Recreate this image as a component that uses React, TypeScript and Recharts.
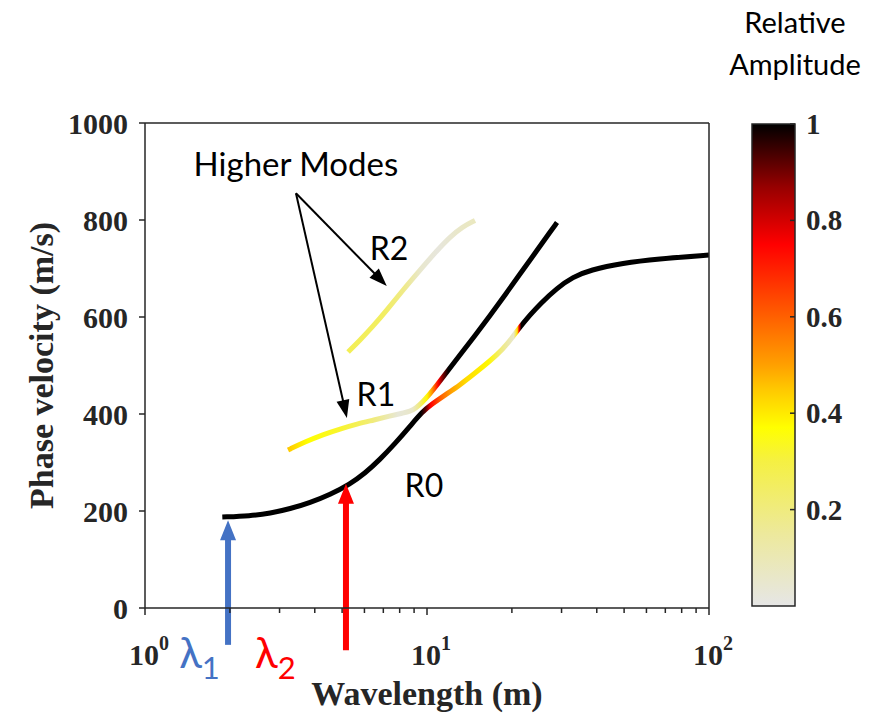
import React from 'react';
import { LineChart, Line, XAxis, YAxis, ReferenceLine, ReferenceDot, BarChart, Bar } from 'recharts';

// wavelength (m) / phase velocity (m/s) of each mode
const R0_WAVELENGTH = [1.88, 2.36, 2.78, 3.27, 3.85, 4.53, 5.33, 6.03, 6.81, 7.7, 8.7, 9.6, 10.42, 11.58, 13.09, 14.8, 16.73, 18.6, 20.02, 21.37, 23.19, 25.16, 28.91, 32.94, 37.84, 49.55, 65.4, 100];
const R0_VELOCITY = [187.6, 189.9, 195.3, 204.5, 217.3, 233.8, 255.5, 277.9, 306.2, 338.8, 374.4, 404.1, 420.6, 439.2, 459.8, 484.5, 509.3, 534, 556.7, 579.4, 604.1, 626.8, 659.8, 682.5, 696.9, 711.3, 719.6, 727.8];

const R1_WAVELENGTH = [3.215, 3.69, 4.28, 4.92, 5.65, 6.49, 7.39, 8.22, 8.7, 9.14, 9.6, 10.16, 10.85, 11.77, 13.09, 14.8, 16.73, 18.91, 21.37, 24.55, 27.31, 28.91];
const R1_VELOCITY = [325.8, 342.3, 357.7, 369.1, 379.4, 387.6, 395.9, 402.1, 405.2, 412.4, 423.7, 439.2, 459.8, 486.6, 521.6, 561.9, 603.1, 645.4, 688.7, 737.1, 775.3, 794.8];

const R2_WAVELENGTH = [5.25, 5.79, 6.38, 7.21, 8.22, 9.45, 10.85, 12.06, 13.31, 14.8];
const R2_VELOCITY = [527.8, 552.6, 578.4, 614.4, 655.7, 696.9, 737.1, 765, 785.6, 799];

// relative amplitude along each mode
const R0_AMP_WAVELENGTH = [1.88, 9.5, 9.9, 10.3, 11.2, 12.2, 13.8, 16.5, 18.3, 20.3, 20.9, 21.2, 21.6, 100];
const R0_AMP = [1, 1, 0.92, 0.75, 0.6, 0.5, 0.42, 0.38, 0.2, 0.05, 0.4, 0.75, 1, 1];

const R1_AMP_WAVELENGTH = [3.215, 3.78, 4.95, 6.5, 7.9, 8.9, 9.4, 10.0, 10.5, 10.95, 11.4, 11.9, 28.91];
const R1_AMP = [0.45, 0.37, 0.32, 0.2, 0.03, 0.06, 0.2, 0.38, 0.55, 0.75, 0.9, 1, 1];

const R2_AMP_WAVELENGTH = [5.25, 7.0, 8.3, 9.5, 10.9, 13, 14.8];
const R2_AMP = [0.27, 0.25, 0.18, 0.05, 0.02, 0.06, 0.08];

// colormap
const CMAP_STOPS = [0, 0.15, 0.3, 0.37, 0.45, 0.5, 0.6, 0.75, 0.87, 1];
const CMAP_COLORS = ['#e6e6e6', '#ede99c', '#f5f043', '#ffff00', '#ffc800', '#ffa000', '#ff6000', '#ff0000', '#960000', '#000000'];

const X_TICKS = [1, 2, 3, 4, 5, 6, 7, 8, 9, 10, 20, 30, 40, 50, 60, 70, 80, 90, 100];
const Y_TICKS = [0, 200, 400, 600, 800, 1000];
const CBAR_TICKS = [0.2, 0.4, 0.6, 0.8, 1];

const LAMBDA1 = 1.97;
const LAMBDA2 = 5.16;

const W = 887;
const H = 717;
const PLOT_L = 145;
const PLOT_R = 709;
const PLOT_T = 123;
const PLOT_B = 608;
const RIGHT_W = 20;
const XAXIS_H = 100;

const AXIS = '#262626';
const SERIF = '"Liberation Serif", "Times New Roman", serif';
const SANS = 'Lato, "Open Sans", sans-serif';
const BLUE = '#4472c4';
const RED = '#ff0000';

const toRgb = (h: string) => [1, 3, 5].map((i) => parseInt(h.slice(i, i + 2), 16));

function ampColor(a: number) {
  for (let i = 1; i < CMAP_STOPS.length; i++) {
    if (a <= CMAP_STOPS[i]) {
      const t = (a - CMAP_STOPS[i - 1]) / (CMAP_STOPS[i] - CMAP_STOPS[i - 1]);
      const c0 = toRgb(CMAP_COLORS[i - 1]);
      const c1 = toRgb(CMAP_COLORS[i]);
      const c = c0.map((v, k) => Math.round(v + (c1[k] - v) * t));
      return `rgb(${c[0]},${c[1]},${c[2]})`;
    }
  }
  return CMAP_COLORS[CMAP_COLORS.length - 1];
}

const pts = (xs: number[], ys: number[]) => xs.map((x, i) => ({ x, v: ys[i] }));
const r0 = pts(R0_WAVELENGTH, R0_VELOCITY);
const r1 = pts(R1_WAVELENGTH, R1_VELOCITY);
const r2 = pts(R2_WAVELENGTH, R2_VELOCITY);

// horizontal gradient in plot coords, offsets from the log x domain [1, 100]
const ModeGradient = ({ id, xs, amps }: { id: string; xs: number[]; amps: number[] }) => (
  <linearGradient id={id} gradientUnits="userSpaceOnUse" x1={PLOT_L} x2={PLOT_R} y1={0} y2={0}>
    {xs.map((x, i) => (
      <stop key={i} offset={Math.log10(x) / 2} stopColor={ampColor(amps[i])} />
    ))}
  </linearGradient>
);

const XTick = ({ x, y, payload }: any) => {
  const e = Math.log10(payload.value);
  const major = Math.abs(e - Math.round(e)) < 1e-9;
  return (
    <g>
      <line x1={x} x2={x} y1={y} y2={y + (major ? 7 : 5)} stroke={AXIS} strokeWidth={1.5} />
      {major && (
        <text x={x + 4} y={y + 57} textAnchor="middle" fontFamily={SERIF} fontWeight="bold" fontSize={30} fill={AXIS}>
          10
          <tspan dy={-15} fontSize={20}>
            {Math.round(e)}
          </tspan>
        </text>
      )}
    </g>
  );
};

const arrow = (color: string, width: number, head: number, headW: number) => (p: any) => {
  const { x1, y1, x2, y2 } = p;
  const len = Math.hypot(x2 - x1, y2 - y1);
  const ux = (x2 - x1) / len;
  const uy = (y2 - y1) / len;
  const bx = x2 - ux * head;
  const by = y2 - uy * head;
  const nx = -uy * headW / 2;
  const ny = ux * headW / 2;
  return (
    <g>
      <line x1={x1} y1={y1} x2={bx + ux} y2={by + uy} stroke={color} strokeWidth={width} />
      <polygon points={`${x2},${y2} ${bx + nx},${by + ny} ${bx - nx},${by - ny}`} fill={color} />
    </g>
  );
};

const note = (text: string, size: number) => (p: any) => (
  <text x={p.cx} y={p.cy} textAnchor="middle" dominantBaseline="central" fontFamily={SANS} fontSize={size} fill="#000">
    {text}
  </text>
);

const lambda = (sub: string, color: string) => (p: any) => (
  <text x={p.cx} y={p.cy} textAnchor="middle" fontFamily={SANS} fontSize={42} fill={color}>
    λ
    <tspan dy={11} fontSize={31}>
      {sub}
    </tspan>
  </text>
);

const CbarTick = ({ x, y, payload }: any) => (
  <g>
    <line x1={x - 5} x2={x} y1={y} y2={y} stroke={AXIS} strokeWidth={1.5} />
    <text x={x + 11} y={y} dy={10} fontFamily={SERIF} fontWeight="bold" fontSize={29} fill={AXIS}>
      {payload.value}
    </text>
  </g>
);

export default function App() {
  return (
    <div style={{ position: 'absolute', left: 0, top: 0, width: W, height: H, background: '#fff' }}>
      <div style={{ position: 'absolute', left: 0, top: 0 }}>
        <LineChart
          width={W}
          height={H}
          margin={{ top: PLOT_T, left: 0, right: W - PLOT_R - RIGHT_W, bottom: H - PLOT_B - XAXIS_H }}
        >
          <defs>
            <ModeGradient id="gR0" xs={R0_AMP_WAVELENGTH} amps={R0_AMP} />
            <ModeGradient id="gR1" xs={R1_AMP_WAVELENGTH} amps={R1_AMP} />
            <ModeGradient id="gR2" xs={R2_AMP_WAVELENGTH} amps={R2_AMP} />
          </defs>
          <XAxis
            dataKey="x"
            type="number"
            scale="log"
            domain={[1, 100]}
            allowDataOverflow
            ticks={X_TICKS}
            interval={0}
            height={XAXIS_H}
            tickSize={0}
            tickMargin={0}
            tickLine={false}
            tick={<XTick />}
            axisLine={{ stroke: AXIS, strokeWidth: 1.5 }}
            label={{
              content: () => (
                <text x={(PLOT_L + PLOT_R) / 2} y={705} textAnchor="middle" fontFamily={SERIF} fontWeight="bold" fontSize={34} fill={AXIS}>
                  Wavelength (m)
                </text>
              ),
            }}
          />
          <YAxis
            type="number"
            domain={[0, 1000]}
            ticks={Y_TICKS}
            width={PLOT_L}
            tickSize={6}
            tickMargin={11}
            tick={{ fontFamily: SERIF, fontWeight: 'bold', fontSize: 30, fill: AXIS }}
            tickLine={{ stroke: AXIS, strokeWidth: 1.5 }}
            axisLine={{ stroke: AXIS, strokeWidth: 1.5 }}
            label={{
              content: () => (
                <text
                  x={41}
                  y={(PLOT_T + PLOT_B) / 2}
                  transform={`rotate(-90 41 ${(PLOT_T + PLOT_B) / 2})`}
                  textAnchor="middle"
                  dominantBaseline="central"
                  fontFamily={SERIF}
                  fontWeight="bold"
                  fontSize={34}
                  fill={AXIS}
                >
                  Phase velocity (m/s)
                </text>
              ),
            }}
          />
          <YAxis
            yAxisId="right"
            orientation="right"
            type="number"
            domain={[0, 1000]}
            allowDataOverflow
            ticks={Y_TICKS}
            width={RIGHT_W}
            tickSize={6}
            tick={false}
            tickLine={{ stroke: AXIS, strokeWidth: 1.5 }}
            axisLine={{ stroke: AXIS, strokeWidth: 1.5 }}
          />
          <ReferenceLine y={1000} stroke={AXIS} strokeWidth={1.5} />

          <Line data={r2} dataKey="v" type="basis" stroke="url(#gR2)" strokeWidth={5} dot={false} activeDot={false} isAnimationActive={false} />
          <Line data={r1} dataKey="v" type="basis" stroke="url(#gR1)" strokeWidth={5} dot={false} activeDot={false} isAnimationActive={false} />
          <Line data={r0} dataKey="v" type="basis" stroke="url(#gR0)" strokeWidth={5} dot={false} activeDot={false} isAnimationActive={false} />

          <ReferenceLine
            segment={[{ x: 3.43, y: 855 }, { x: 7.2, y: 664 }]}
            ifOverflow="visible"
            shape={arrow('#000', 2, 18, 13)}
          />
          <ReferenceLine
            segment={[{ x: 3.43, y: 855 }, { x: 5.2, y: 392 }]}
            ifOverflow="visible"
            shape={arrow('#000', 2, 18, 13)}
          />
          <ReferenceLine
            segment={[{ x: LAMBDA1, y: -76 }, { x: LAMBDA1, y: 181 }]}
            ifOverflow="visible"
            shape={arrow(BLUE, 6, 20, 16)}
          />
          <ReferenceLine
            segment={[{ x: LAMBDA2, y: -87 }, { x: LAMBDA2, y: 256 }]}
            ifOverflow="visible"
            shape={arrow(RED, 6, 20, 16)}
          />

          <ReferenceDot x={3.43} y={917} r={0} ifOverflow="visible" shape={note('Higher Modes', 33)} />
          <ReferenceDot x={7.33} y={744} r={0} ifOverflow="visible" shape={note('R2', 32)} />
          <ReferenceDot x={6.59} y={443} r={0} ifOverflow="visible" shape={note('R1', 32)} />
          <ReferenceDot x={9.75} y={254} r={0} ifOverflow="visible" shape={note('R0', 32)} />
          <ReferenceDot x={1.56} y={-124} r={0} ifOverflow="visible" shape={lambda('1', BLUE)} />
          <ReferenceDot x={2.9} y={-124} r={0} ifOverflow="visible" shape={lambda('2', RED)} />
        </LineChart>
      </div>

      <div style={{ position: 'absolute', left: 0, top: 0, pointerEvents: 'none' }}>
        <BarChart
          width={W}
          height={H}
          data={[{ name: 'amp', value: 1 }]}
          margin={{ top: 124, left: 752, right: W - 795 - 60, bottom: H - 606 }}
          barCategoryGap={0}
        >
          <defs>
            <linearGradient id="cbar" x1="0" y1="1" x2="0" y2="0">
              {CMAP_STOPS.map((s, i) => (
                <stop key={i} offset={s} stopColor={CMAP_COLORS[i]} />
              ))}
            </linearGradient>
          </defs>
          <XAxis dataKey="name" hide />
          <YAxis
            orientation="right"
            type="number"
            domain={[0, 1]}
            ticks={CBAR_TICKS}
            width={60}
            tickSize={0}
            tickMargin={0}
            tickLine={false}
            axisLine={false}
            tick={<CbarTick />}
          />
          <Bar dataKey="value" fill="url(#cbar)" stroke={AXIS} strokeWidth={1.5} isAnimationActive={false} />
        </BarChart>
      </div>

      <div
        style={{
          position: 'absolute',
          left: 715,
          top: 1,
          width: 160,
          textAlign: 'center',
          fontFamily: SANS,
          fontSize: 29,
          lineHeight: '42px',
          color: '#000',
        }}
      >
        Relative
        <br />
        Amplitude
      </div>
    </div>
  );
}
